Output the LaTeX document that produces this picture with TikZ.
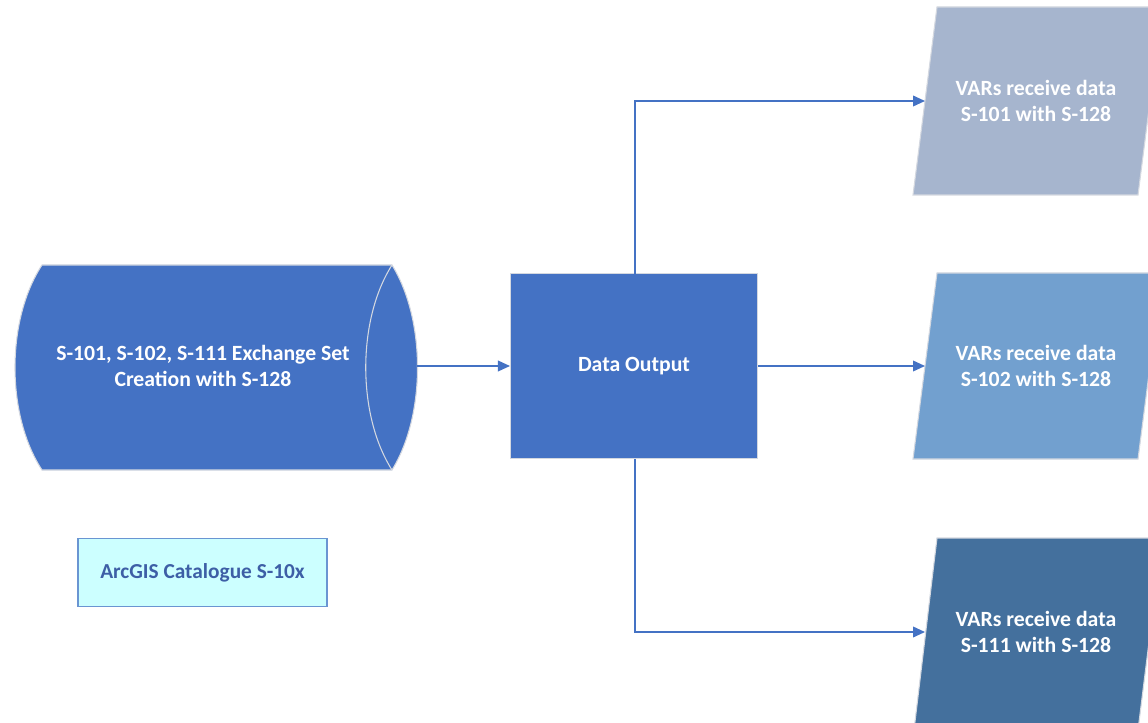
\documentclass[tikz,border=0pt]{standalone}
\usepackage{fontspec}
\setmainfont{Carlito}
\usetikzlibrary{arrows.meta}
\definecolor{mainblue}{HTML}{4472C4}
\definecolor{parA}{HTML}{A6B5CE}
\definecolor{parB}{HTML}{72A0CF}
\definecolor{parC}{HTML}{44709D}
\definecolor{lblfill}{HTML}{CCFFFF}
\definecolor{lbldraw}{HTML}{6A95D2}
\definecolor{lbltext}{HTML}{3D5FA6}
\definecolor{edge}{HTML}{D4D8E0}
\tikzset{
  shapeedge/.style={draw=edge, line width=0.8pt},
  wtext/.style={text=white, font=\bfseries\fontsize{16.3}{19}\selectfont, align=center},
  conn/.style={draw=mainblue, line width=1.2pt, -{Triangle[length=9pt,width=8pt]}},
}
\begin{document}
\begin{tikzpicture}[x=0.75pt,y=-0.75pt]
\useasboundingbox (0,0) rectangle (1148,723);
\clip (0,0) rectangle (1148,723);
\fill[white] (0,0) rectangle (1148,723);

% cylinder (horizontal data store)
\fill[mainblue] (42,265) -- (392,265) .. controls (426,320) and (426,415) .. (392,470) -- (42,470) .. controls (6,415) and (6,320) .. (42,265) -- cycle;
\draw[shapeedge] (42,265) -- (392,265) .. controls (426,320) and (426,415) .. (392,470) -- (42,470) .. controls (6,415) and (6,320) .. (42,265) -- cycle;
\draw[shapeedge] (392,265) .. controls (357,320) and (357,415) .. (392,470);
\node[wtext] (cyl) at (203,366) {S-101, S-102, S-111 Exchange Set\\Creation with S-128};
\coordinate (cylR) at (417,366);

% Data Output box
\node[shapeedge, fill=mainblue, minimum width=247*0.75pt, minimum height=185*0.75pt, inner sep=0pt, wtext] (out) at (634,366) {Data Output};
\coordinate (outN) at (635,274);
\coordinate (outS) at (635,459);

% parallelograms
\fill[parA, shapeedge] (937,7) -- (1162,7) -- (1138,195) -- (913,195) -- cycle;
\node[wtext] (v1) at (1036,101) {VARs receive data\\S-101 with S-128};
\coordinate (v1in) at (925,101);

\fill[parB, shapeedge] (937,273) -- (1162,273) -- (1138,459) -- (913,459) -- cycle;
\node[wtext] (v2) at (1036,366) {VARs receive data\\S-102 with S-128};
\coordinate (v2in) at (925,366);

\fill[parC, shapeedge] (937,538) -- (1162,538) -- (1138,730) -- (914,730) -- cycle;
\node[wtext] (v3) at (1036,632) {VARs receive data\\S-111 with S-128};
\coordinate (v3in) at (925,632);

% label box
\node[draw=lbldraw, line width=1pt, fill=lblfill, minimum width=249*0.75pt, minimum height=68*0.75pt, inner sep=0pt, text=lbltext, font=\bfseries\fontsize{16}{19}\selectfont] (lbl) at (202.5,572.5) {ArcGIS Catalogue S-10x};

% connectors
\draw[conn] (cylR) -- (out.west);
\draw[conn] (outN) |- (v1in);
\draw[conn] (out.east) -- (v2in);
\draw[conn] (outS) |- (v3in);
\end{tikzpicture}
\end{document}
